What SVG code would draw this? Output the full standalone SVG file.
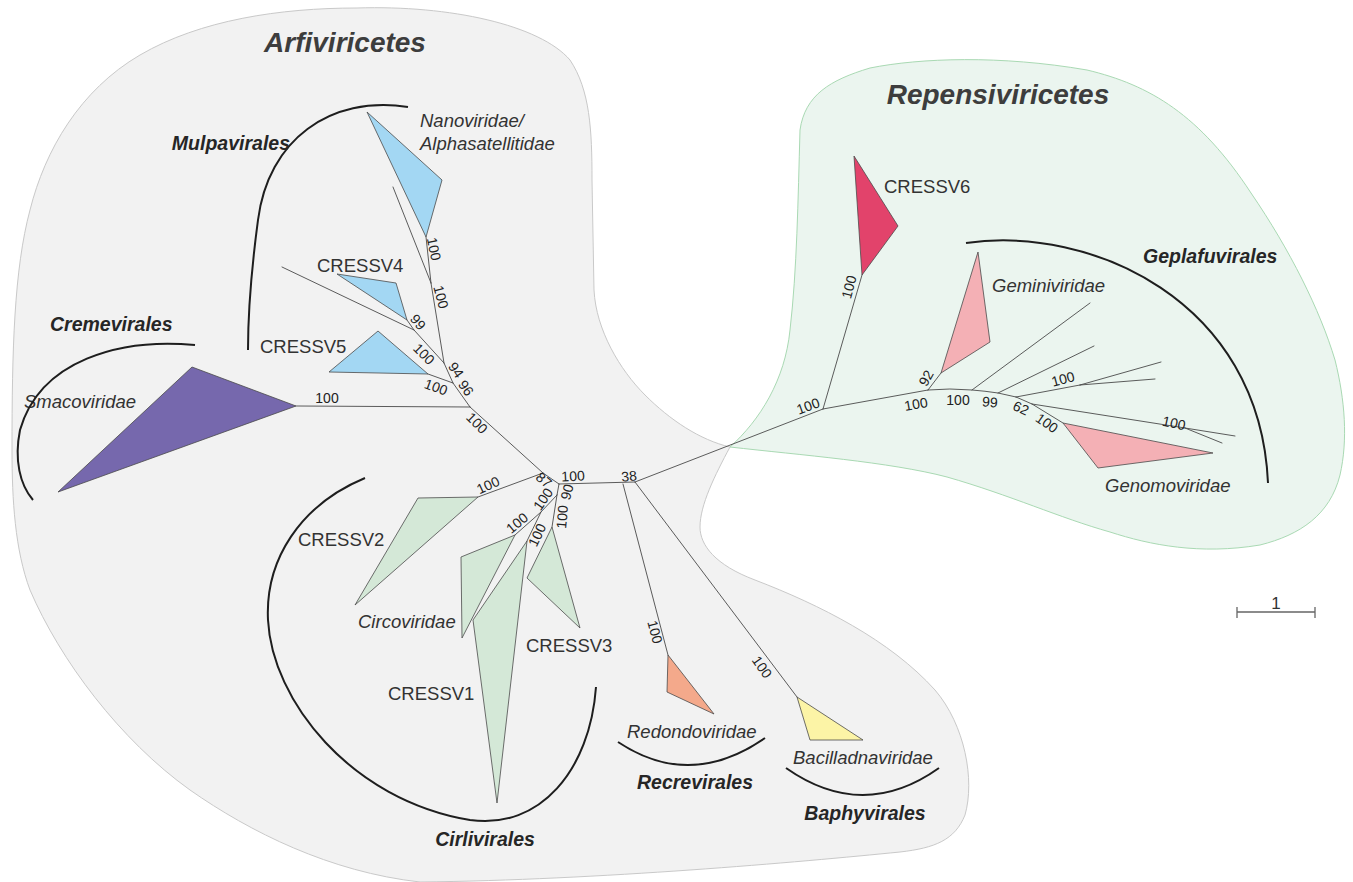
<svg xmlns="http://www.w3.org/2000/svg" width="1353" height="882" viewBox="0 0 1353 882">
<style>
.bs{font-family:"Liberation Sans",Arial,sans-serif;font-size:14px;fill:#222;text-anchor:middle}
.fam{font-family:"Liberation Sans",Arial,sans-serif;font-size:18.5px;font-style:italic;fill:#333}
.cl{font-family:"Liberation Sans",Arial,sans-serif;font-size:18.5px;fill:#333}
.ord{font-family:"Liberation Sans",Arial,sans-serif;font-size:19.5px;font-style:italic;font-weight:bold;fill:#262626}
.ttl{font-family:"Liberation Sans",Arial,sans-serif;font-size:28px;font-style:italic;font-weight:bold;fill:#3d3d3d;text-anchor:middle}
.br{stroke:#4a4a4a;stroke-width:0.9;fill:none;stroke-linecap:round}
.tri{stroke:#4a4a4a;stroke-width:0.8;stroke-linejoin:round}
.arc{stroke:#1e1e1e;stroke-width:2;fill:none}
</style>
<rect width="1353" height="882" fill="#ffffff"/>
<g id="arfiviricetes-region">
<path d="M357,8 C450,5 540,25 570,60 C590,90 592,130 592,180 L594,290 C596,330 620,370 645,395 C670,420 700,440 730,447 C715,475 700,505 700,527 C700,545 715,565 755,580 C820,605 890,640 935,690 C965,725 975,780 965,815 C955,840 935,848 900,852 C800,862 600,880 420,882 C330,872 250,832 190,790 C120,740 60,660 30,590 C15,550 12,500 12,450 C12,350 14,270 30,210 C45,150 80,90 140,55 C200,20 280,8 357,8 Z" fill="#f2f2f2" stroke="#c9c9c9" stroke-width="1"/>
<text class="ttl" x="345" y="52">Arfiviricetes</text>
</g>
<g id="repensiviricetes-region">
<path d="M800,130 C805,95 830,80 870,68 C920,58 1000,55 1087,70 C1150,85 1200,115 1251,193 C1290,250 1320,310 1335,360 C1345,400 1348,440 1340,475 C1330,515 1300,535 1260,545 C1200,555 1150,545 1110,532 C1060,518 1010,495 947,477 C890,462 800,455 730,447 C760,420 785,380 790,330 C797,270 798,200 800,130 Z" fill="#ebf5ef" stroke="#a9d9b3" stroke-width="1"/>
<text class="ttl" x="998" y="104">Repensiviricetes</text>
</g>
<g id="connectors">
<path class="br" d="M296,406 L470,407 M470,407 L543,473"/>
<path class="br" d="M393,187 L431,283 M426,237 L431,283 M431,283 L444,363 M282,267 L414,330 M407,320 L414,330 M414,330 L444,363 M444,363 L453,383 M428,374 L453,383 M453,383 L470,407"/>
<path class="br" d="M543,473 L478,497 M543,473 L559,484 M559,484 L635,482 M559,484 L557,495 M557,495 L552,527 M557,495 L541,512 M541,512 L515,535 M541,512 L527,541"/>
<path class="br" d="M623,484 L668,655 M635,482 L797,697"/>
<path class="br" d="M635,482 L823,409 M823,409 L862,275 M823,409 L928,390 M928,390 L941,373 M972,390 L1090,303 M998,393 L1094,346 M1016,397 L1080,385 M1080,385 L1161,362 M1080,385 L1155,379 M1016,397 L1032,404 M1032,404 L1063,423 M1032,404 L1185,428 M1185,428 L1235,436 M1185,428 L1222,443"/>
<path class="br" d="M928,390 Q950,388 972,390 Q985,391 998,393 L1016,397" stroke-width="1.3"/>
</g>
<g id="smacoviridae"><polygon class="tri" points="192,367 296,406 58,492" fill="#7668ad"/><text class="fam" x="24" y="408">Smacoviridae</text></g>
<g id="cremevirales"><path class="arc" d="M195,345 C120,338 40,360 20,430 C14,460 20,485 33,500"/><text class="ord" x="50" y="331">Cremevirales</text></g>
<g id="nanoviridae"><polygon class="tri" points="367,112 442,180 426,237" fill="#a3d7f3"/><text class="fam" x="420" y="127">Nanoviridae/</text><text class="fam" x="420" y="150">Alphasatellitidae</text></g>
<g id="cressv4"><polygon class="tri" points="337,274 396,283 407,320" fill="#a3d7f3"/><text class="cl" x="317" y="272">CRESSV4</text></g>
<g id="cressv5"><polygon class="tri" points="378,331 329,372 428,374" fill="#a3d7f3"/><text class="cl" x="260" y="353">CRESSV5</text></g>
<g id="mulpavirales"><path class="arc" d="M408,107 C330,95 268,140 258,220 C252,265 248,310 248,350"/><text class="ord" x="290" y="150" text-anchor="end">Mulpavirales</text></g>
<g id="cressv2"><polygon class="tri" points="418,498 478,497 355,605" fill="#d4e8d7"/><text class="cl" x="298" y="546">CRESSV2</text></g>
<g id="cressv1"><polygon class="tri" points="527,541 473,620 497,803" fill="#d4e8d7"/><text class="cl" x="388" y="700">CRESSV1</text></g>
<g id="circoviridae"><polygon class="tri" points="461,557 515,535 462,638" fill="#d4e8d7"/><text class="fam" x="358" y="628">Circoviridae</text></g>
<g id="cressv3"><polygon class="tri" points="552,527 527,578 580,628" fill="#d4e8d7"/><text class="cl" x="526" y="652">CRESSV3</text></g>
<g id="cirlivirales"><path class="arc" d="M365,478 C300,505 265,560 268,620 C272,700 350,800 470,820 C540,830 590,770 596,687"/><text class="ord" x="485" y="846" text-anchor="middle">Cirlivirales</text></g>
<g id="redondoviridae"><polygon class="tri" points="668,655 667,692 714,714" fill="#f4a98b"/><text class="fam" x="627" y="738">Redondoviridae</text></g>
<g id="recrevirales"><path class="arc" d="M618,742 Q690,790 765,738"/><text class="ord" x="695" y="789" text-anchor="middle">Recrevirales</text></g>
<g id="bacilladnaviridae"><polygon class="tri" points="797,697 810,740 863,740" fill="#fcf4a6"/><text class="fam" x="793" y="764">Bacilladnaviridae</text></g>
<g id="baphyvirales"><path class="arc" d="M786,768 Q863,822 939,768"/><text class="ord" x="865" y="820" text-anchor="middle">Baphyvirales</text></g>
<g id="cressv6"><polygon class="tri" points="854,156 898,226 862,275" fill="#e2436b"/><text class="cl" x="884" y="193">CRESSV6</text></g>
<g id="geminiviridae"><polygon class="tri" points="978,252 990,342 941,373" fill="#f4b0b5"/><text class="fam" x="992" y="292">Geminiviridae</text></g>
<g id="genomoviridae"><polygon class="tri" points="1063,423 1213,453 1098,468" fill="#f4b0b5"/><text class="fam" x="1105" y="492">Genomoviridae</text></g>
<g id="geplafuvirales"><path class="arc" d="M966,243 C1090,225 1260,300 1268,483"/><text class="ord" x="1143" y="263">Geplafuvirales</text></g>
<g id="bootstrap">
<text class="bs" transform="translate(434,249) rotate(78)" y="5">100</text>
<text class="bs" transform="translate(441,297) rotate(75)" y="5">100</text>
<text class="bs" transform="translate(418,322) rotate(50)" y="5">99</text>
<text class="bs" transform="translate(424,354) rotate(45)" y="5">100</text>
<text class="bs" transform="translate(456,370) rotate(55)" y="5">94</text>
<text class="bs" transform="translate(466,388) rotate(55)" y="5">96</text>
<text class="bs" transform="translate(436,387) rotate(20)" y="5">100</text>
<text class="bs" transform="translate(327,398)" y="5">100</text>
<text class="bs" transform="translate(477,423) rotate(45)" y="5">100</text>
<text class="bs" transform="translate(544,480) rotate(40)" y="5">87</text>
<text class="bs" transform="translate(573,476) rotate(-3)" y="5">100</text>
<text class="bs" transform="translate(567,492) rotate(-75)" y="5">90</text>
<text class="bs" transform="translate(543,499) rotate(-55)" y="5">100</text>
<text class="bs" transform="translate(562,517) rotate(-85)" y="5">100</text>
<text class="bs" transform="translate(517,523) rotate(-40)" y="5">100</text>
<text class="bs" transform="translate(537,535) rotate(-65)" y="5">100</text>
<text class="bs" transform="translate(488,485) rotate(-25)" y="5">100</text>
<text class="bs" transform="translate(629,476) rotate(-5)" y="5">38</text>
<text class="bs" transform="translate(655,632) rotate(75)" y="5">100</text>
<text class="bs" transform="translate(762,667) rotate(55)" y="5">100</text>
<text class="bs" transform="translate(849,287) rotate(-75)" y="5">100</text>
<text class="bs" transform="translate(808,406) rotate(-20)" y="5">100</text>
<text class="bs" transform="translate(926,378) rotate(-60)" y="5">92</text>
<text class="bs" transform="translate(916,404) rotate(-10)" y="5">100</text>
<text class="bs" transform="translate(958,400)" y="5">100</text>
<text class="bs" transform="translate(990,402) rotate(5)" y="5">99</text>
<text class="bs" transform="translate(1021,408) rotate(25)" y="5">62</text>
<text class="bs" transform="translate(1047,423) rotate(35)" y="5">100</text>
<text class="bs" transform="translate(1063,379) rotate(-15)" y="5">100</text>
<text class="bs" transform="translate(1174,423) rotate(12)" y="5">100</text>
</g>
<g id="scale-bar">
<path d="M1237,612 L1315,612 M1237,607 L1237,618 M1315,607 L1315,618" stroke="#666" stroke-width="1.3" fill="none"/>
<text x="1276" y="609" font-family="Liberation Sans, Arial, sans-serif" font-size="17" fill="#333" text-anchor="middle">1</text>
</g>
</svg>
